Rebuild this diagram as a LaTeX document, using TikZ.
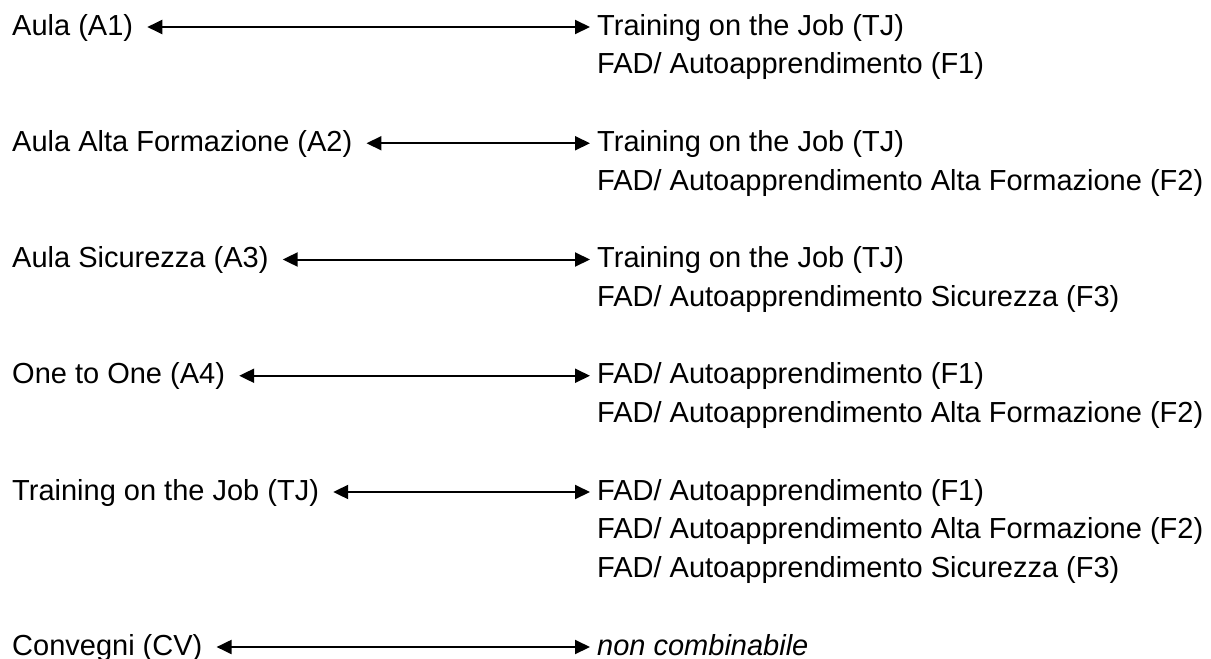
\documentclass[tikz,border=0pt]{standalone}
\usepackage{fontspec}
\setmainfont{Liberation Sans}
\usetikzlibrary{arrows.meta}
\begin{document}
\begin{tikzpicture}[x=1pt,y=1pt,
  lbl/.style={anchor=base west,inner sep=0pt,font=\fontsize{29pt}{38.75pt}\selectfont},
  link/.style={line width=2pt,{Triangle[length=15pt,width=14pt]}-{Triangle[length=15pt,width=14pt]}}]
\useasboundingbox (0,0) rectangle (1211,-659);
% left labels
\node[lbl] (l1) at (12,{-(35+38.75*0)}) {Aula (A1)};
\node[lbl] (l2) at (12,{-(35+38.75*3)}) {Aula Alta Formazione (A2)};
\node[lbl] (l3) at (12,{-(35+38.75*6)}) {Aula Sicurezza (A3)};
\node[lbl] (l4) at (12,{-(35+38.75*9)}) {One to One (A4)};
\node[lbl] (l5) at (12,{-(35+38.75*12)}) {Training on the Job (TJ)};
\node[lbl] (l6) at (12,{-(35+38.75*16)}) {Convegni (CV)};
% right labels
\node[lbl] (r1) at (597,{-(35+38.75*0)}) {Training on the Job (TJ)};
\node[lbl] (r1b) at (597,{-(35+38.75*1)}) {FAD/ Autoapprendimento (F1)};
\node[lbl] (r2) at (597,{-(35+38.75*3)}) {Training on the Job (TJ)};
\node[lbl] (r2b) at (597,{-(35+38.75*4)}) {FAD/ Autoapprendimento Alta Formazione (F2)};
\node[lbl] (r3) at (597,{-(35+38.75*6)}) {Training on the Job (TJ)};
\node[lbl] (r3b) at (597,{-(35+38.75*7)}) {FAD/ Autoapprendimento Sicurezza (F3)};
\node[lbl] (r4) at (597,{-(35+38.75*9)}) {FAD/ Autoapprendimento (F1)};
\node[lbl] (r4b) at (597,{-(35+38.75*10)}) {FAD/ Autoapprendimento Alta Formazione (F2)};
\node[lbl] (r5) at (597,{-(35+38.75*12)}) {FAD/ Autoapprendimento (F1)};
\node[lbl] (r5b) at (597,{-(35+38.75*13)}) {FAD/ Autoapprendimento Alta Formazione (F2)};
\node[lbl] (r5c) at (597,{-(35+38.75*14)}) {FAD/ Autoapprendimento Sicurezza (F3)};
\node[lbl] (r6) at (597,{-(35+38.75*16)}) {\itshape non combinabile};
% connectors
\foreach \i in {1,...,6}{
  \draw[link] ([xshift=14pt,yshift=8pt]l\i.base east) -- ([xshift=-7pt,yshift=8pt]r\i.base west);
}
\end{tikzpicture}
\end{document}
